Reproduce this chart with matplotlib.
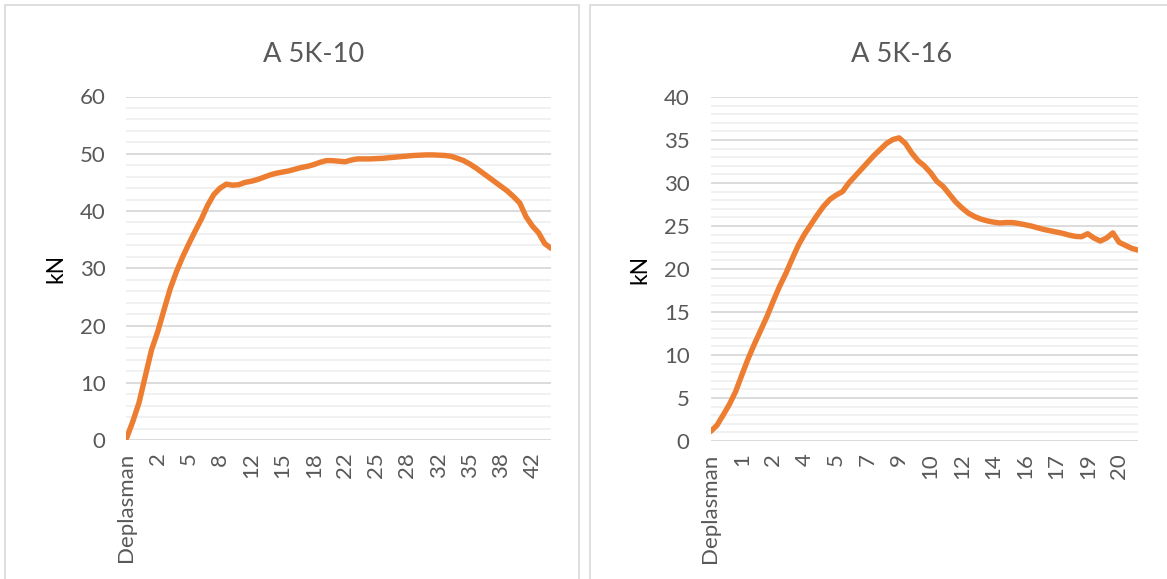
import matplotlib.pyplot as plt
import matplotlib.patches as pch

# force readings (kN), one per displacement row; ticks show every 5th row
force_10 = [0.3, 3.2, 6.5, 11.1, 15.7, 18.9, 22.7, 26.4, 29.4, 32.0,
            34.3, 36.5, 38.6, 41.0, 42.9, 44.0, 44.7, 44.5, 44.6, 45.0,
            45.2, 45.5, 45.9, 46.3, 46.6, 46.8, 47.0, 47.3, 47.6, 47.8,
            48.1, 48.5, 48.8, 48.8, 48.7, 48.6, 48.9, 49.1, 49.1, 49.1,
            49.15, 49.2, 49.3, 49.4, 49.5, 49.6, 49.7, 49.75, 49.8, 49.8,
            49.75, 49.7, 49.55, 49.2, 48.8, 48.2, 47.5, 46.7, 45.9, 45.1,
            44.3, 43.5, 42.5, 41.4, 39.0, 37.4, 36.2, 34.3, 33.5]
labels_10 = ["Deplasman", "2", "5", "8", "12", "15", "18", "22", "25", "28",
             "32", "35", "38", "42"]

force_16 = [1.1, 1.8, 3.0, 4.25, 5.75, 7.7, 9.6, 11.3, 12.9, 14.5,
            16.3, 18.0, 19.5, 21.2, 22.8, 24.1, 25.2, 26.3, 27.3, 28.1,
            28.6, 29.0, 30.0, 30.8, 31.6, 32.4, 33.2, 33.9, 34.6, 35.05,
            35.25, 34.6, 33.5, 32.6, 32.0, 31.2, 30.2, 29.6, 28.7, 27.8,
            27.1, 26.5, 26.1, 25.8, 25.6, 25.45, 25.35, 25.4, 25.4, 25.3,
            25.15, 25.0, 24.8, 24.6, 24.45, 24.3, 24.15, 23.95, 23.8, 23.75,
            24.1, 23.6, 23.25, 23.6, 24.2, 23.1, 22.75, 22.4, 22.2]
labels_16 = ["Deplasman", "1", "2", "4", "5", "7", "9", "10", "12", "14",
             "16", "17", "19", "20"]

W, H = 1167, 579
FONT = "Lato"
GRAY = "#595959"
ORANGE = "#ED7D31"

fig = plt.figure(figsize=(W / 100, H / 100), dpi=100)

# chart frames
fig.patches.append(pch.Rectangle((5 / W, -0.05), 574 / W, 1 - 4.5 / H + 0.05,
                                 transform=fig.transFigure, fill=False,
                                 edgecolor="#d9d9d9", linewidth=1.2))
fig.patches.append(pch.Rectangle((590 / W, -0.05), 600 / W, 1 - 4.5 / H + 0.05,
                                 transform=fig.transFigure, fill=False,
                                 edgecolor="#d9d9d9", linewidth=1.2))


def draw(rect, force, labels, ymax, major, minor, title, title_xy, kn_xy):
    ax = fig.add_axes(rect)
    x = range(len(force))
    ax.plot(x, force, color=ORANGE, lw=3.9, solid_capstyle="round",
            solid_joinstyle="round", zorder=3)
    ax.set_xlim(0, len(force) - 1)
    ax.set_ylim(0, ymax)
    ax.set_yticks([v * major for v in range(int(ymax / major) + 1)])
    ax.set_yticks([v * minor for v in range(int(ymax / minor) + 1)], minor=True)
    ax.set_xticks(range(0, 5 * len(labels), 5))
    ax.set_xticklabels(labels, rotation=90, va="top", ha="center")
    ax.grid(which="major", axis="y", color="#d9d9d9", lw=1.3, zorder=1)
    ax.grid(which="minor", axis="y", color="#f0f0f0", lw=1.3, zorder=0)
    for s in ax.spines.values():
        s.set_visible(False)
    ax.tick_params(which="both", length=0)
    ax.tick_params(axis="y", pad=15, labelsize=16, labelcolor=GRAY)
    ax.tick_params(axis="x", pad=9, labelsize=16, labelcolor=GRAY)
    for t in ax.get_xticklabels() + ax.get_yticklabels():
        t.set_fontfamily(FONT)
    fig.text(title_xy[0] / W, 1 - title_xy[1] / H, title, ha="center",
             va="center", fontsize=19.6, color=GRAY, fontfamily=FONT)
    fig.text(kn_xy[0] / W, 1 - kn_xy[1] / H, "kN", ha="center", va="center",
             rotation=90, fontsize=16.5, color="black", fontfamily=FONT)
    return ax


draw([126.5 / W, 1 - 440 / H, 424.5 / W, 343.5 / H], force_10, labels_10,
     60, 10, 2, "A 5K-10", (314, 55), (56, 268))
draw([710.5 / W, 1 - 441 / H, 427.5 / W, 344 / H], force_16, labels_16,
     40, 5, 1, "A 5K-16", (902, 54), (640, 269))

fig.savefig("out.png", dpi=100, facecolor="white")
